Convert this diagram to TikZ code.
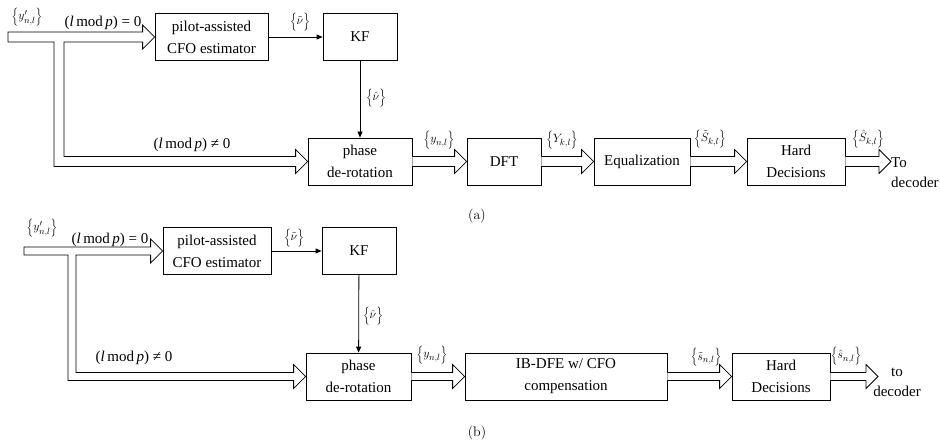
\documentclass[tikz,border=0pt]{standalone}
\usepackage{fontspec}
\newfontfamily\tnr{Liberation Serif}
\usetikzlibrary{arrows.meta,calc}
\tikzset{
  block/.style={draw, line width=0.8pt, minimum height=47pt, inner sep=0pt, align=center, font=\tnr\fontsize{15}{22}\selectfont},
  txt/.style={inner sep=0pt, align=center, font=\tnr\fontsize{15}{20}\selectfont},
  lbl/.style={inner sep=0pt, font=\fontsize{12.5}{15}\selectfont},
  captxt/.style={inner sep=0pt, font=\fontsize{14}{16}\selectfont},
  fat/.style={draw, line width=0.8pt, fill=white, line join=miter},
  sig/.style={draw, line width=0.8pt, -{Triangle[length=6pt,width=5pt]}}
}
\def\shw{5}
\newcommand\fatarrow[2]{\draw[fat] ($(#1)+(0,-\shw)$) -- ($(#2)+(-12,-\shw)$) -- ($(#2)+(-12,-12)$) -- (#2) -- ($(#2)+(-12,12)$) -- ($(#2)+(-12,\shw)$) -- ($(#1)+(0,\shw)$);}
\newcommand\set[1]{$\Bigl\{#1\Bigr\}$}
\begin{document}
\begin{tikzpicture}[x=1pt,y=-1pt]
\useasboundingbox (0,0) rectangle (940,446);
% (a)
\node[block, minimum width=113pt] (pa) at (211.5,37) {pilot-assisted\\CFO estimator};
\node[block, minimum width=74pt] (kfa) at (360,37) {KF};
\node[block, minimum width=104pt] (pha) at (360,161.5) {phase\\de-rotation};
\node[block, minimum width=74pt] (dfta) at (504,161.5) {DFT};
\node[block, minimum width=96pt] (eqa) at (642,161.5) {Equalization};
\node[block, minimum width=98pt] (hda) at (796,161.5) {Hard\\Decisions};
\coordinate (ina) at (8,37);
\coordinate (ja) at (59,37);
\coordinate (outa) at (891,161.5);
\def\shw{5}
\draw[fat] ($(ina)+(0,-\shw)$) -- ($(pa.west)+(-12,-\shw)$) -- ($(pa.west)+(-12,-12)$) -- (pa.west)
  -- ($(pa.west)+(-12,12)$) -- ($(pa.west)+(-12,\shw)$) -- ($(ja)+(\shw,\shw)$)
  -- ($(ja |- pha.west)+(\shw,-\shw)$) -- ($(pha.west)+(-12,-\shw)$) -- ($(pha.west)+(-12,-12)$) -- (pha.west)
  -- ($(pha.west)+(-12,12)$) -- ($(pha.west)+(-12,\shw)$) -- ($(ja |- pha.west)+(-\shw,\shw)$)
  -- ($(ja)+(-\shw,\shw)$) -- ($(ina)+(0,\shw)$) -- cycle;
\foreach \a/\b in {pha.east/dfta.west, dfta.east/eqa.west, eqa.east/hda.west, hda.east/outa}
  \fatarrow{\a}{\b};
\draw[sig] (pa) -- (kfa);
\draw[sig] (kfa) -- (pha);
\node[txt, anchor=west, align=left] (deca) at (891,172.5) {To\\decoder};
\node[lbl] (ya) at (27,17) {\set{y'_{n,l}}};
\node[txt] (m0a) at (103,23) {(\textit{l}\,mod\,\textit{p}) = 0};
\node[txt] (mna) at (192,145) {(\textit{l}\,mod\,\textit{p}) ≠ 0};
\node[lbl] (vta) at (300,22) {\set{\tilde{\nu}}};
\node[lbl] (vha) at (376,98) {\set{\hat{\nu}}};
\node[lbl] (yna) at (439,140) {\set{y_{n,l}}};
\node[lbl] (Yka) at (562,140) {\set{Y_{k,l}}};
\node[lbl] (sta) at (710,139) {\set{\tilde{S}_{k,l}}};
\node[lbl] (sha) at (868,139) {\set{\hat{S}_{k,l}}};
\node[captxt] (capa) at (477,216) {(a)};
% (b)
\node[block, minimum width=108pt] (pb) at (217,251) {pilot-assisted\\CFO estimator};
\node[block, minimum width=74pt] (kfb) at (359,251) {KF};
\node[block, minimum width=105pt] (phb) at (358.5,376.5) {phase\\de-rotation};
\node[block, minimum width=202pt] (ibb) at (566,376.5) {IB-DFE w/ CFO\\compensation};
\node[block, minimum width=98pt] (hdb) at (781,376.5) {Hard\\Decisions};
\coordinate (inb) at (24,251);
\coordinate (jb) at (72,251);
\coordinate (outb) at (878,376.5);
\def\shw{4}
\draw[fat] ($(inb)+(0,-\shw)$) -- ($(pb.west)+(-12,-\shw)$) -- ($(pb.west)+(-12,-12)$) -- (pb.west)
  -- ($(pb.west)+(-12,12)$) -- ($(pb.west)+(-12,\shw)$) -- ($(jb)+(\shw,\shw)$)
  -- ($(jb |- phb.west)+(\shw,-\shw)$) -- ($(phb.west)+(-12,-\shw)$) -- ($(phb.west)+(-12,-12)$) -- (phb.west)
  -- ($(phb.west)+(-12,12)$) -- ($(phb.west)+(-12,\shw)$) -- ($(jb |- phb.west)+(-\shw,\shw)$)
  -- ($(jb)+(-\shw,\shw)$) -- ($(inb)+(0,\shw)$) -- cycle;
\foreach \a/\b in {phb.east/ibb.west, ibb.east/hdb.west, hdb.east/outb}
  \fatarrow{\a}{\b};
\draw[sig] (pb) -- (kfb);
\draw[sig] (kfb) -- (phb);
\node[txt] (decb) at (897,382) {to\\decoder};
\node[lbl] (yb) at (42,228) {\set{y'_{n,l}}};
\node[txt] (m0b) at (110,240) {(\textit{l}\,mod\,\textit{p}) = 0};
\node[txt] (mnb) at (134,358) {(\textit{l}\,mod\,\textit{p}) ≠ 0};
\node[lbl] (vtb) at (294,238) {\set{\tilde{\nu}}};
\node[lbl] (vhb) at (373,316) {\set{\hat{\nu}}};
\node[lbl] (ynb) at (432,355) {\set{y_{n,l}}};
\node[lbl] (stb) at (706,357) {\set{\tilde{s}_{n,l}}};
\node[lbl] (shb) at (846,356) {\set{\hat{s}_{n,l}}};
\node[captxt] (capb) at (477,433) {(b)};
\end{tikzpicture}
\end{document}
